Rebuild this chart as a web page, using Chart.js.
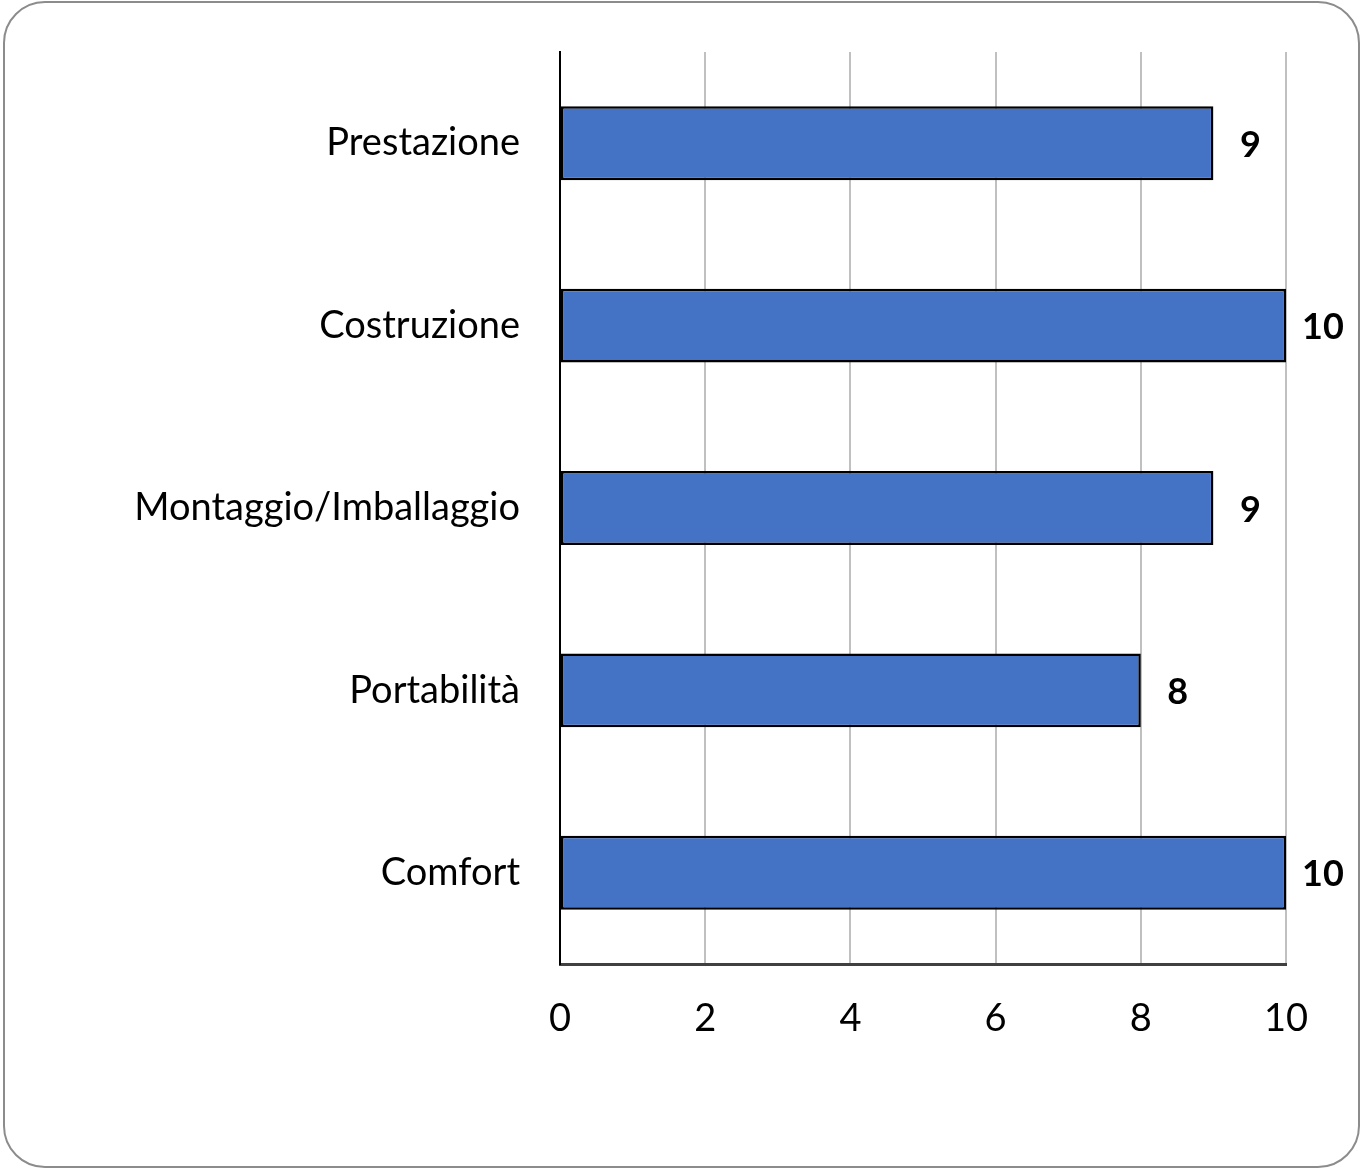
<!DOCTYPE html>
<html>
<head>
<meta charset="utf-8">
<script src="https://cdn.jsdelivr.net/npm/chart.js@4/dist/chart.umd.min.js"></script>
<style>
  body { margin: 0; background: #fff; }
  #frame {
    position: absolute; left: 3px; top: 1px; width: 1353px; height: 1163px;
    border: 2px solid #8c8c8c; border-radius: 42px;
  }
  #myChart { position: absolute; left: 0; top: 0; }
</style>
</head>
<body>
<div id="frame"></div>
<canvas id="myChart" width="1365" height="1173"></canvas>
<script>
// dati del grafico
const categorie = ['Prestazione', 'Costruzione', 'Montaggio/Imballaggio', 'Portabilità', 'Comfort'];
const valori = [9, 10, 9, 8, 10];
const tickX = [0, 2, 4, 6, 8, 10];

const fontBase = "Lato, 'Open Sans', sans-serif";

// etichette dei valori a destra delle barre
const etichetteValori = {
  id: 'etichetteValori',
  afterDatasetsDraw(chart) {
    const ctx = chart.ctx;
    const meta = chart.getDatasetMeta(0);
    ctx.save();
    ctx.font = 'bold 36px ' + fontBase;
    ctx.fillStyle = '#000';
    ctx.textAlign = 'center';
    ctx.textBaseline = 'middle';
    meta.data.forEach(function (bar, i) {
      ctx.fillText(String(valori[i]), bar.x + 37, bar.y + 2);
    });
    ctx.restore();
  }
};

const ctx = document.getElementById('myChart');

new Chart(ctx, {
  type: 'bar',
  data: {
    labels: categorie,
    datasets: [{
      data: valori,
      backgroundColor: '#4472C4',
      borderColor: '#000',
      borderWidth: 2.5,
      borderSkipped: false,
      barPercentage: 1,
      categoryPercentage: 0.405
    }]
  },
  options: {
    indexAxis: 'y',
    responsive: false,
    devicePixelRatio: 1,
    animation: false,
    layout: { padding: { top: 52, right: 79, left: 0, bottom: 0 } },
    plugins: {
      legend: { display: false },
      tooltip: { enabled: false }
    },
    scales: {
      x: {
        min: 0,
        max: 10,
        afterBuildTicks: function (scale) {
          scale.ticks = tickX.map(v => ({ value: v }));
        },
        afterFit: function (scale) {
          scale.height = 209;
          scale.paddingLeft = 0;
          scale.paddingRight = 0;
        },
        grid: { color: '#c0c0c0', lineWidth: 2, drawTicks: false },
        border: { color: '#404040', width: 3 },
        ticks: { color: '#000', padding: 32, font: { family: fontBase, size: 38 } }
      },
      y: {
        afterFit: function (scale) {
          scale.width = 560;
          scale.paddingTop = 0;
          scale.paddingBottom = 0;
        },
        grid: { display: false, drawTicks: false },
        border: { color: '#000', width: 2 },
        ticks: { color: '#000', padding: 40, font: { family: fontBase, size: 38 } }
      }
    }
  },
  plugins: [etichetteValori]
});
</script>
</body>
</html>
